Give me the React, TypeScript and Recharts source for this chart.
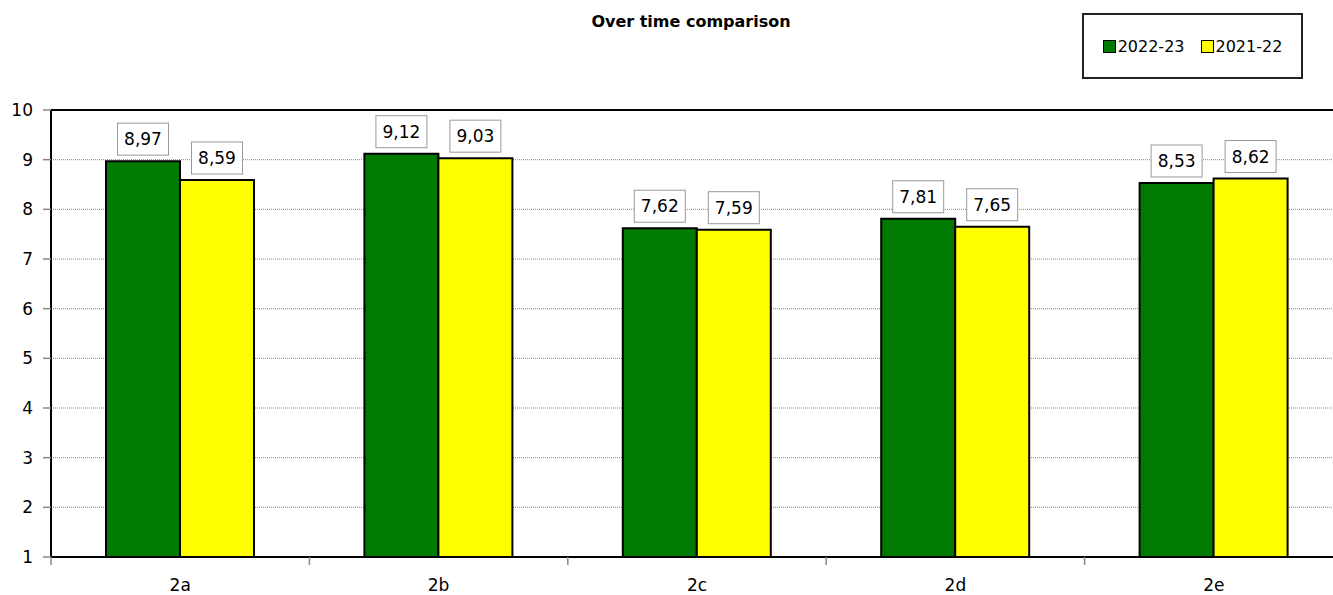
import React from "react";
import {
  Bar,
  BarChart,
  CartesianGrid,
  LabelList,
  ReferenceLine,
  XAxis,
  YAxis,
} from "recharts";

const categories = ["2a", "2b", "2c", "2d", "2e"];
const values2223 = [8.97, 9.12, 7.62, 7.81, 8.53];
const values2122 = [8.59, 9.03, 7.59, 7.65, 8.62];
const yTicks = [1, 2, 3, 4, 5, 6, 7, 8, 9, 10];

const FONT = "'DejaVu Sans', Verdana, sans-serif";
const GREEN = "#007A00";
const YELLOW = "#FFFF00";

const data = categories.map((name, i) => ({
  name,
  s2223: values2223[i],
  s2122: values2122[i],
}));

const fmt = (v: number) => v.toFixed(2).replace(".", ",");

const ValueBox = (props: any) => {
  const { x, y, width, value } = props;
  const cx = x + width / 2;
  const w = 51;
  const h = 32;
  const bottom = y - 6;
  return (
    <g>
      <rect x={cx - w / 2} y={bottom - h} width={w} height={h} fill="#fff" stroke="#999" strokeWidth={1} />
      <text x={cx} y={bottom - h / 2 + 6} textAnchor="middle" fontSize={17} fontFamily={FONT} fill="#000">
        {fmt(Number(value))}
      </text>
    </g>
  );
};

const XTick = (props: any) => {
  const { x, y, payload, index } = props;
  const half = payload && payload.offset ? payload.offset : 129.2;
  const axisY = y - 8 - 14;
  return (
    <g>
      <line x1={x - half} x2={x - half} y1={axisY} y2={axisY + 8} stroke="#888" strokeWidth={1.5} />
      {index === categories.length - 1 && (
        <line x1={x + half} x2={x + half} y1={axisY} y2={axisY + 8} stroke="#888" strokeWidth={1.5} />
      )}
      <text x={x} y={y} dy="0.71em" textAnchor="middle" fontSize={17} fontFamily={FONT} fill="#000">
        {payload.value}
      </text>
    </g>
  );
};

const legendItems = [
  { label: "2022-23", color: GREEN },
  { label: "2021-22", color: YELLOW },
];

export default function App() {
  return (
    <div
      style={{
        position: "absolute",
        left: 0,
        top: 0,
        width: 1333,
        height: 595,
        overflow: "hidden",
        background: "#fff",
      }}
    >
      <div
        style={{
          position: "absolute",
          top: 12,
          left: 0,
          width: 1382,
          textAlign: "center",
          fontFamily: FONT,
          fontWeight: "bold",
          fontSize: 16,
        }}
      >
        Over time comparison
      </div>
      <div
        style={{
          position: "absolute",
          top: 13,
          left: 1082,
          width: 221,
          height: 66,
          border: "2px solid #222",
          boxSizing: "border-box",
          display: "flex",
          alignItems: "center",
          justifyContent: "center",
          gap: 16,
          fontFamily: FONT,
          fontSize: 16,
          background: "#fff",
          zIndex: 2,
        }}
      >
        {legendItems.map((it) => (
          <span key={it.label} style={{ display: "flex", alignItems: "center", gap: 2 }}>
            <span
              style={{
                width: 11,
                height: 11,
                background: it.color,
                border: "1.5px solid #000",
                display: "inline-block",
              }}
            />
            {it.label}
          </span>
        ))}
      </div>
      <BarChart
        width={1345}
        height={595}
        data={data}
        margin={{ top: 110, right: 2, bottom: 0, left: 0 }}
        barGap={0}
        barSize={74}
      >
        <CartesianGrid vertical={false} stroke="#888" strokeDasharray="1 1" />
        <XAxis
          dataKey="name"
          height={38}
          axisLine={{ stroke: "#000", strokeWidth: 2 }}
          tickLine={false}
          tickSize={8}
          tickMargin={14}
          tick={<XTick />}
          interval={0}
        />
        <YAxis
          width={51}
          domain={[1, 10]}
          ticks={yTicks}
          interval={0}
          allowDataOverflow
          axisLine={{ stroke: "#000", strokeWidth: 2 }}
          tickLine={{ stroke: "#888", strokeWidth: 1.5 }}
          tickSize={8}
          tickMargin={10}
          tick={{ fill: "#000", fontSize: 17, fontFamily: FONT }}
        />
        <ReferenceLine y={10} stroke="#000" strokeWidth={2} />
        <Bar dataKey="s2223" name="2022-23" fill={GREEN} stroke="#000" strokeWidth={2} isAnimationActive={false}>
          <LabelList dataKey="s2223" content={<ValueBox />} />
        </Bar>
        <Bar dataKey="s2122" name="2021-22" fill={YELLOW} stroke="#000" strokeWidth={2} isAnimationActive={false}>
          <LabelList dataKey="s2122" content={<ValueBox />} />
        </Bar>
      </BarChart>
    </div>
  );
}
